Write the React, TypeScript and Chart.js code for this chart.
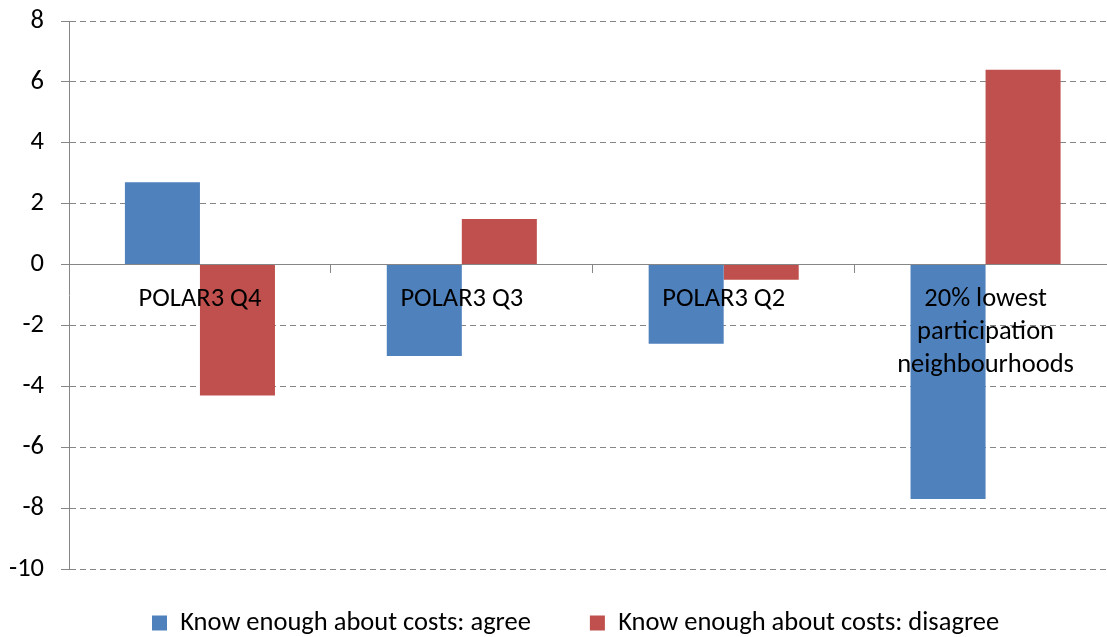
import React, { useEffect, useRef } from 'react';
import { Chart, registerables } from 'chart.js';

Chart.register(...registerables);

const categories: (string | string[])[] = [
  'POLAR3 Q4',
  'POLAR3 Q3',
  'POLAR3 Q2',
  ['20% lowest', 'participation', 'neighbourhoods'],
];
const agreeValues = [2.7, -3.0, -2.6, -7.7];
const disagreeValues = [-4.3, 1.5, -0.5, 6.4];
const seriesLabels = ['Know enough about costs: agree', 'Know enough about costs: disagree'];
const seriesColors = ['#4F81BD', '#C0504D'];
const yMin = -10;
const yMax = 8;
const yStep = 2;

const FONT = 'Carlito, Calibri, Lato, sans-serif';
const FONT_SIZE = 26.5;
const GRID = '#868686';
const LEGEND_PAD = 59;
const LEGEND_TEXT_CENTER = 623;
const LEGEND_X = 152;

export default function App() {
  const ref = useRef<HTMLCanvasElement | null>(null);

  useEffect(() => {
    document.body.style.margin = '0';
    document.body.style.overflow = 'hidden';
    if (!ref.current) return;
    const placeLegend = {
      id: 'placeLegend',
      afterLayout(chart: any) {
        const lg = chart.legend;
        if (!lg || !lg.lineWidths) return;
        const itemHeight = Math.max(FONT_SIZE, 15);
        lg.top = LEGEND_TEXT_CENTER - itemHeight / 2 - LEGEND_PAD;
        lg.bottom = chart.height;
        const x0 = (lg.left + LEGEND_PAD + lg.right - lg.lineWidths[0]) / 2;
        const dx = LEGEND_X - x0;
        lg.left += dx;
        lg.right += dx;
      },
    };
    const chart = new Chart(ref.current, {
      type: 'bar',
      data: {
        labels: categories as any,
        datasets: [
          { label: seriesLabels[0], data: agreeValues, backgroundColor: seriesColors[0], borderWidth: 0 },
          { label: seriesLabels[1], data: disagreeValues, backgroundColor: seriesColors[1], borderWidth: 0 },
        ],
      },
      options: {
        responsive: false,
        animation: false,
        devicePixelRatio: 1,
        events: [],
        layout: { padding: { top: 21, right: 13.5, left: 0, bottom: 0 } },
        datasets: { bar: { categoryPercentage: 0.573, barPercentage: 1 } },
        plugins: {
          tooltip: { enabled: false },
          legend: {
            position: 'bottom',
            maxHeight: 68,
            labels: {
              boxWidth: 15,
              boxHeight: 15,
              padding: LEGEND_PAD,
              color: '#000',
              font: { family: FONT, size: FONT_SIZE },
            },
          },
        },
        scales: {
          x: {
            type: 'category',
            position: { y: 0 } as any,
            afterFit: (s: any) => {
              s.height = 0;
              s.paddingLeft = 0;
              s.paddingRight = 0;
            },
            grid: { display: true, drawOnChartArea: false, drawTicks: true, tickLength: 8, color: GRID, offset: true, z: -1 },
            border: { display: true, color: GRID, width: 1, z: 0 },
            ticks: {
              z: 1,
              autoSkip: false,
              maxRotation: 0,
              minRotation: 0,
              padding: 10,
              color: '#000',
              font: { family: FONT, size: FONT_SIZE, lineHeight: 33 / FONT_SIZE },
            },
          },
          y: {
            min: yMin,
            max: yMax,
            afterFit: (s: any) => {
              s.width = 69;
              s.paddingTop = 0;
              s.paddingBottom = 0;
            },
            grid: {
              color: (ctx: any) => (ctx.tick && ctx.tick.value === 0 ? 'rgba(0,0,0,0)' : GRID),
              tickColor: GRID,
              tickLength: 8,
              lineWidth: 1,
            },
            border: { display: true, color: GRID, width: 1, dash: [6, 4] },
            ticks: {
              stepSize: yStep,
              padding: 17,
              color: '#000',
              font: { family: FONT, size: FONT_SIZE },
            },
          },
        },
      },
      plugins: [placeLegend],
    });
    return () => chart.destroy();
  }, []);

  return (
    <div style={{ position: 'fixed', left: 0, top: 0, width: 1107, height: 637, overflow: 'hidden', background: '#fff' }}>
      <canvas ref={ref} width={1130} height={637} style={{ width: 1130, height: 637 }} />
    </div>
  );
}
